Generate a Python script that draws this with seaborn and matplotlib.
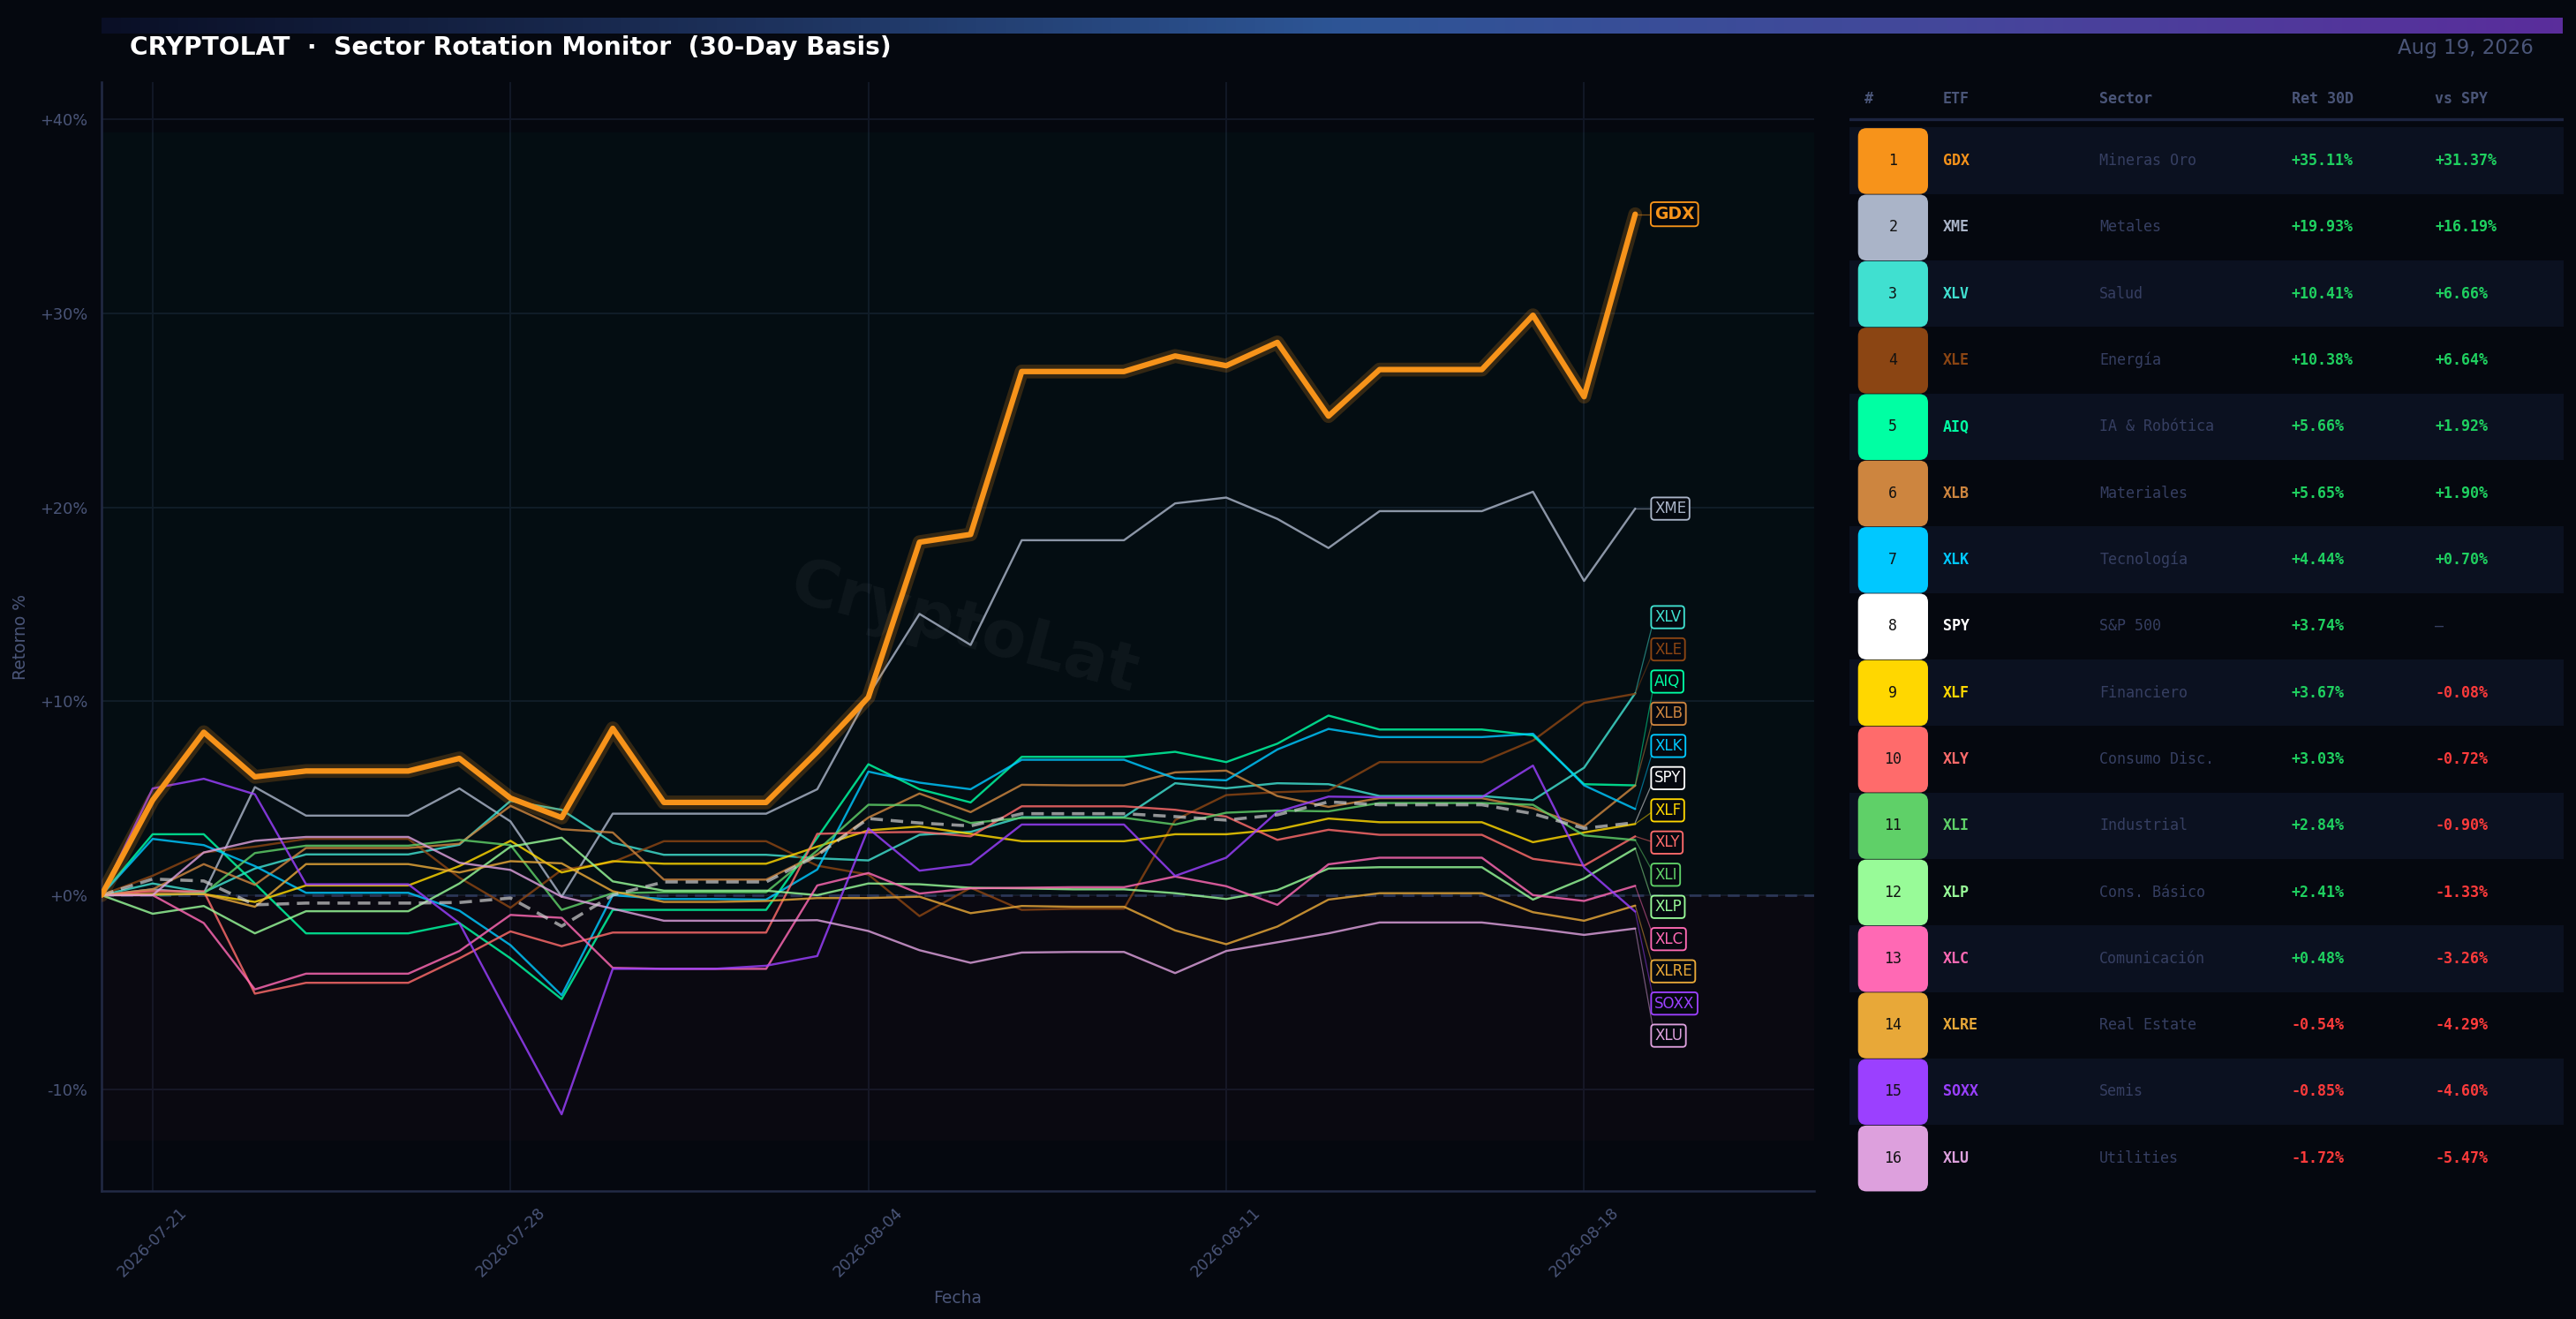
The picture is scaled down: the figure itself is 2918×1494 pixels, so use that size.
import numpy as np
import pandas as pd
import matplotlib
matplotlib.use("Agg")
import matplotlib.pyplot as plt
import matplotlib.dates as mdates
from matplotlib.patches import FancyBboxPatch, Rectangle
import seaborn as sns

BG = "#05080f"
MUTED = "#4a5578"
DIM = "#363f62"
GRID = "#121827"
SPINE = "#222a45"
GREEN = "#1fd160"
RED = "#ff3b3b"

dates = pd.date_range("2026-07-20", "2026-08-19", freq="D")

tickers = ["GDX", "XME", "XLV", "XLE", "AIQ", "XLB", "XLK", "SPY",
           "XLF", "XLY", "XLI", "XLP", "XLC", "XLRE", "SOXX", "XLU"]
sectors = ["Mineras Oro", "Metales", "Salud", "Energía", "IA & Robótica",
           "Materiales", "Tecnología", "S&P 500", "Financiero", "Consumo Disc.",
           "Industrial", "Cons. Básico", "Comunicación", "Real Estate", "Semis",
           "Utilities"]
colors = ["#F7931A", "#AAB4C8", "#40E0D0", "#8B4513", "#00FFA3", "#CD853F",
          "#00C8FF", "#FFFFFF", "#FFD700", "#FF6B6B", "#5FD068", "#98FB98",
          "#FF69B4", "#E8A838", "#9B40FF", "#DDA0DD"]
ret_30d = [35.11, 19.93, 10.41, 10.38, 5.66, 5.65, 4.44, 3.74,
           3.67, 3.03, 2.84, 2.41, 0.48, -0.54, -0.85, -1.72]
vs_spy = [31.37, 16.19, 6.66, 6.64, 1.92, 1.90, 0.70, np.nan,
          -0.08, -0.72, -0.90, -1.33, -3.26, -4.29, -4.60, -5.47]

# cumulative 30-day return paths (%)
gdx = [0, 4.9, 8.4, 6.1, 6.4, 6.4, 6.4, 7.05, 5.0, 4.0, 8.6, 4.78, 4.78, 4.78, 7.4, 10.2,
       18.2, 18.6, 27.0, 27.0, 27.0, 27.8, 27.3, 28.5, 24.7, 27.1, 27.1, 27.1, 29.9, 25.7, 35.11]
xme = [0, 0.3, 0.1, 5.57, 4.1, 4.1, 4.1, 5.5, 3.8, -0.08, 4.2, 4.2, 4.2, 4.2, 5.46, 10.3,
       14.5, 12.9, 18.3, 18.3, 18.3, 20.2, 20.5, 19.4, 17.9, 19.8, 19.8, 19.8, 20.8, 16.2, 19.93]
xlv = [0, 0.6, 0.15, 1.37, 2.1, 2.1, 2.1, 2.6, 4.86, 4.4, 2.7, 2.08, 2.08, 2.08, 1.9, 1.79,
       3.11, 3.26, 4.02, 4.02, 4.02, 5.77, 5.51, 5.77, 5.72, 5.11, 5.11, 5.11, 4.9, 6.57, 10.41]
xle = [0, 1.0, 2.2, 2.5, 2.9, 2.9, 2.9, 0.9, -0.65, 1.3, 1.7, 2.78, 2.78, 2.78, 1.52, 1.06,
       -1.08, 0.38, -0.76, -0.7, -0.7, 3.87, 5.16, 5.31, 5.39, 6.86, 6.86, 6.86, 7.97, 9.91, 10.38]
aiq = [0, 3.14, 3.14, 0.6, -1.97, -1.97, -1.97, -1.44, -3.26, -5.36, -0.76, -0.76, -0.76, -0.76, 2.96, 6.75,
       5.46, 4.78, 7.13, 7.13, 7.13, 7.39, 6.86, 7.81, 9.26, 8.54, 8.54, 8.54, 8.24, 5.72, 5.66]
xlb = [0, 0.3, 1.6, 0.53, 2.43, 2.43, 2.43, 2.65, 4.6, 3.4, 3.23, 0.8, 0.8, 0.8, 2.1, 4.0,
       5.24, 4.28, 5.69, 5.66, 5.66, 6.33, 6.42, 5.11, 4.55, 5.0, 5.0, 5.0, 4.48, 3.54, 5.65]
xlk = [0, 2.9, 2.58, 1.5, 0.12, 0.12, 0.12, -0.8, -2.58, -5.16, 0.0, -0.2, -0.2, -0.23, 1.32, 6.37,
       5.8, 5.46, 6.98, 6.98, 6.98, 6.02, 5.92, 7.51, 8.57, 8.15, 8.15, 8.15, 8.32, 5.66, 4.44]
spy = [0, 0.83, 0.73, -0.5, -0.41, -0.41, -0.41, -0.38, -0.15, -1.6, 0.0, 0.68, 0.68, 0.68, 2.05, 3.95,
       3.72, 3.57, 4.2, 4.2, 4.2, 4.05, 3.87, 4.14, 4.81, 4.66, 4.66, 4.66, 4.2, 3.44, 3.74]
xlf = [0, 0.05, 0.05, -0.35, 0.5, 0.5, 0.5, 1.5, 2.8, 1.17, 1.75, 1.62, 1.62, 1.62, 2.5, 3.34,
       3.54, 3.16, 2.78, 2.78, 2.78, 3.14, 3.14, 3.38, 3.95, 3.76, 3.76, 3.76, 2.73, 3.23, 3.67]
xly = [0, 0.2, 0.2, -5.08, -4.52, -4.52, -4.52, -3.26, -1.87, -2.63, -1.93, -1.93, -1.93, -1.93, 3.16, 3.23,
       3.26, 3.03, 4.58, 4.58, 4.58, 4.4, 4.05, 2.85, 3.37, 3.11, 3.11, 3.11, 1.87, 1.52, 3.03]
xli = [0, 0.0, 0.08, 2.17, 2.55, 2.55, 2.55, 2.85, 2.58, -0.76, 0.1, 0.15, 0.15, 0.15, 2.3, 4.66,
       4.63, 3.72, 3.98, 3.99, 3.99, 3.64, 4.25, 4.36, 4.32, 4.75, 4.75, 4.75, 4.66, 3.08, 2.84]
xlp = [0, -0.96, -0.56, -1.97, -0.83, -0.83, -0.83, 0.6, 2.5, 2.96, 0.71, 0.23, 0.23, 0.23, 0.0, 0.6,
       0.56, 0.38, 0.35, 0.3, 0.3, 0.1, -0.2, 0.26, 1.37, 1.44, 1.44, 1.44, -0.23, 0.86, 2.41]
xlc = [0, 0.0, -1.44, -4.86, -4.05, -4.05, -4.05, -2.88, -1.02, -1.17, -3.75, -3.8, -3.8, -3.8, 0.5, 1.14,
       0.08, 0.35, 0.38, 0.41, 0.41, 0.96, 0.46, -0.5, 1.59, 1.93, 1.93, 1.93, 0.0, -0.3, 0.48]
xlre = [0, 0.05, 0.05, -0.6, 1.6, 1.6, 1.6, 1.17, 1.75, 1.64, 0.2, -0.35, -0.35, -0.3, -0.15, -0.15,
        -0.08, -0.93, -0.56, -0.6, -0.6, -1.82, -2.53, -1.62, -0.23, 0.1, 0.1, 0.1, -0.88, -1.32, -0.54]
soxx = [0, 5.5, 6.0, 5.2, 0.56, 0.56, 0.56, -1.44, -6.4, -11.3, -3.8, -3.8, -3.8, -3.64, -3.14, 3.44,
        1.26, 1.59, 3.64, 3.64, 3.64, 0.99, 1.93, 4.29, 5.08, 5.05, 5.05, 5.05, 6.68, 1.44, -0.85]
xlu = [0, 0.0, 2.2, 2.8, 3.0, 3.0, 3.0, 1.67, 1.3, -0.08, -0.7, -1.32, -1.32, -1.32, -1.29, -1.85,
       -2.84, -3.49, -2.96, -2.93, -2.93, -4.02, -2.88, -2.43, -1.97, -1.41, -1.41, -1.41, -1.71, -2.05, -1.72]

paths = [gdx, xme, xlv, xle, aiq, xlb, xlk, spy, xlf, xly, xli, xlp, xlc, xlre, soxx, xlu]

df = pd.DataFrame([
    {"fecha": d, "ret": v, "etf": tk}
    for tk, vals in zip(tickers, paths) for d, v in zip(dates, vals)
])
palette = dict(zip(tickers, colors))


def spread_labels(vals, gap):
    # cluster overlapping labels and center each cluster on its mean value
    order = list(np.argsort(vals)[::-1])
    clusters = [[i] for i in order]

    def place(cl):
        c = np.mean([vals[i] for i in cl])
        n = len(cl)
        return [c + gap * (n - 1) / 2 - gap * k for k in range(n)]

    merged = True
    while merged:
        merged = False
        for j in range(len(clusters) - 1):
            if place(clusters[j])[-1] - place(clusters[j + 1])[0] < gap:
                clusters[j] = clusters[j] + clusters[j + 1]
                del clusters[j + 1]
                merged = True
                break
    out = {}
    for cl in clusters:
        for i, y in zip(cl, place(cl)):
            out[i] = y
    return out


sns.set_theme(style="dark")
plt.rcParams["font.family"] = ["DejaVu Sans"]

fig = plt.figure(figsize=(2918 / 150, 1494 / 150), dpi=150, facecolor=BG)

# gradient bar on top
bar = fig.add_axes([115 / 2918, 1 - 38 / 1494, 2788 / 2918, 18 / 1494])
grad_cmap = matplotlib.colors.LinearSegmentedColormap.from_list(
    "bar", ["#0a0f26", "#1c2f58", "#2d5595", "#44479b", "#5a2d9b"])
bar.imshow(np.linspace(0, 1, 512)[None, :], aspect="auto", cmap=grad_cmap)
bar.axis("off")

fig.text(147 / 2918, 1 - 54 / 1494, "CRYPTOLAT  ·  Sector Rotation Monitor  (30-Day Basis)",
         color="white", fontsize=13.5, fontweight="bold", va="center", ha="left")
fig.text(2870 / 2918, 1 - 54 / 1494, "Aug 19, 2026", color=MUTED, fontsize=11,
         va="center", ha="right")

# ---- main chart ----
ax = fig.add_axes([115 / 2918, 1 - 1349 / 1494, 1940 / 2918, 1256 / 1494])
ax.set_facecolor(BG)

top = max(max(p) for p in paths) * 1.12
bot = min(min(p) for p in paths) * 1.12
ax.axhspan(0, top, color="#00ff99", alpha=0.022, lw=0)
ax.axhspan(bot, 0, color="#ff3366", alpha=0.025, lw=0)
ax.axhline(0, color="#2c3758", lw=1.3, ls=(0, (5, 3)), zorder=1)

ax.text(dates[0] + pd.Timedelta(hours=405), 13.7, "CryptoLat", fontsize=35, fontweight="bold",
        color="white", alpha=0.045, rotation=-15, ha="center", va="center", zorder=2)

others = df[~df["etf"].isin(["GDX", "SPY"])]
sns.lineplot(data=others, x="fecha", y="ret", hue="etf", palette=palette,
             linewidth=1.15, alpha=0.82, legend=False, ax=ax, zorder=3)
sns.lineplot(data=df[df["etf"] == "SPY"], x="fecha", y="ret", color="#cfcfcf",
             linewidth=1.7, alpha=0.7, linestyle=(0, (4, 2.5)), ax=ax, zorder=4)
gdx_df = df[df["etf"] == "GDX"]
sns.lineplot(data=gdx_df, x="fecha", y="ret", color=palette["GDX"], linewidth=7.5,
             alpha=0.2, ax=ax, zorder=5)
sns.lineplot(data=gdx_df, x="fecha", y="ret", color=palette["GDX"], linewidth=3.0,
             ax=ax, zorder=6)

# end labels
x_end = dates[-1]
x_lab = dates[-1] + pd.Timedelta(hours=9)
label_y = spread_labels(ret_30d, 1.66)
for i, tk in enumerate(tickers):
    c = colors[i]
    y = label_y[i]
    ax.plot([x_end, x_lab], [paths[i][-1], y], color=c, lw=0.6, alpha=0.5, zorder=2)
    big = tk == "GDX"
    ax.text(x_lab, y, tk, color=c, fontsize=9 if big else 8,
            fontweight="bold" if big else "normal", va="center", ha="left", zorder=7,
            bbox=dict(boxstyle="round,pad=0.22", fc=BG, ec=c, lw=0.9))

ax.set_xlim(dates[0], dates[-1] + pd.Timedelta(hours=84))
ax.set_ylim(bot - 0.05 * (top - bot), top + 0.05 * (top - bot))
ax.set_yticks([-10, 0, 10, 20, 30, 40])
ax.yaxis.set_major_formatter(matplotlib.ticker.FuncFormatter(lambda v, p: f"{v:+.0f}%"))
ax.set_xticks(dates[1::7])
ax.xaxis.set_major_formatter(mdates.DateFormatter("%Y-%m-%d"))
ax.tick_params(axis="x", rotation=45, colors=MUTED, labelsize=8.5, length=4, color=SPINE)
ax.tick_params(axis="y", colors=MUTED, labelsize=8.5, length=4, color=SPINE)
ax.grid(True, color=GRID, lw=0.9)
for s in ["top", "right"]:
    ax.spines[s].set_visible(False)
for s in ["left", "bottom"]:
    ax.spines[s].set_color(SPINE)
    ax.spines[s].set_linewidth(1.2)
ax.set_xlabel("Fecha", color=MUTED, fontsize=9, labelpad=5)
ax.set_ylabel("Retorno %", color=MUTED, fontsize=9, labelpad=6)

# ---- ranking table ----
tb = fig.add_axes([2095 / 2918, 1 - 1360 / 1494, 809 / 2918, 1280 / 1494])
tb.set_facecolor(BG)
tb.set_xlim(0, 1)
tb.set_ylim(15.64, -1.355)
tb.axis("off")

mono = "DejaVu Sans Mono"
hdr_y = -0.93
for x, h in zip([0.021, 0.131, 0.350, 0.619, 0.820], ["#", "ETF", "Sector", "Ret 30D", "vs SPY"]):
    tb.text(x, hdr_y, h, family=mono, fontsize=8, fontweight="bold", color=MUTED,
            ha="left", va="center")
tb.plot([0, 1], [-0.62, -0.62], color="#1c2440", lw=1.6)

for i, tk in enumerate(tickers):
    if i % 2 == 0:
        tb.add_patch(Rectangle((0, i - 0.5), 1, 1, color="#0b1120", lw=0, zorder=0))
    tb.add_patch(FancyBboxPatch((0.012, i - 0.49), 0.098, 0.99,
                                boxstyle="round,pad=0,rounding_size=0.012",
                                mutation_aspect=10.7, fc=colors[i], ec="none", zorder=1))
    tb.text(0.061, i, str(i + 1), family=mono, fontsize=8, color="#111111",
            ha="center", va="center", zorder=2)
    tb.text(0.131, i, tk, family=mono, fontsize=8, fontweight="bold", color=colors[i],
            ha="left", va="center")
    tb.text(0.350, i, sectors[i], family=mono, fontsize=8, color=DIM, ha="left", va="center")
    r = ret_30d[i]
    tb.text(0.619, i, f"{r:+.2f}%", family=mono, fontsize=8, fontweight="bold",
            color=GREEN if r >= 0 else RED, ha="left", va="center")
    v = vs_spy[i]
    if np.isnan(v):
        tb.text(0.820, i, "—", family=mono, fontsize=8, color=DIM, ha="left", va="center")
    else:
        tb.text(0.820, i, f"{v:+.2f}%", family=mono, fontsize=8, fontweight="bold",
                color=GREEN if v >= 0 else RED, ha="left", va="center")

fig.savefig("out.png", dpi=150, facecolor=BG)
